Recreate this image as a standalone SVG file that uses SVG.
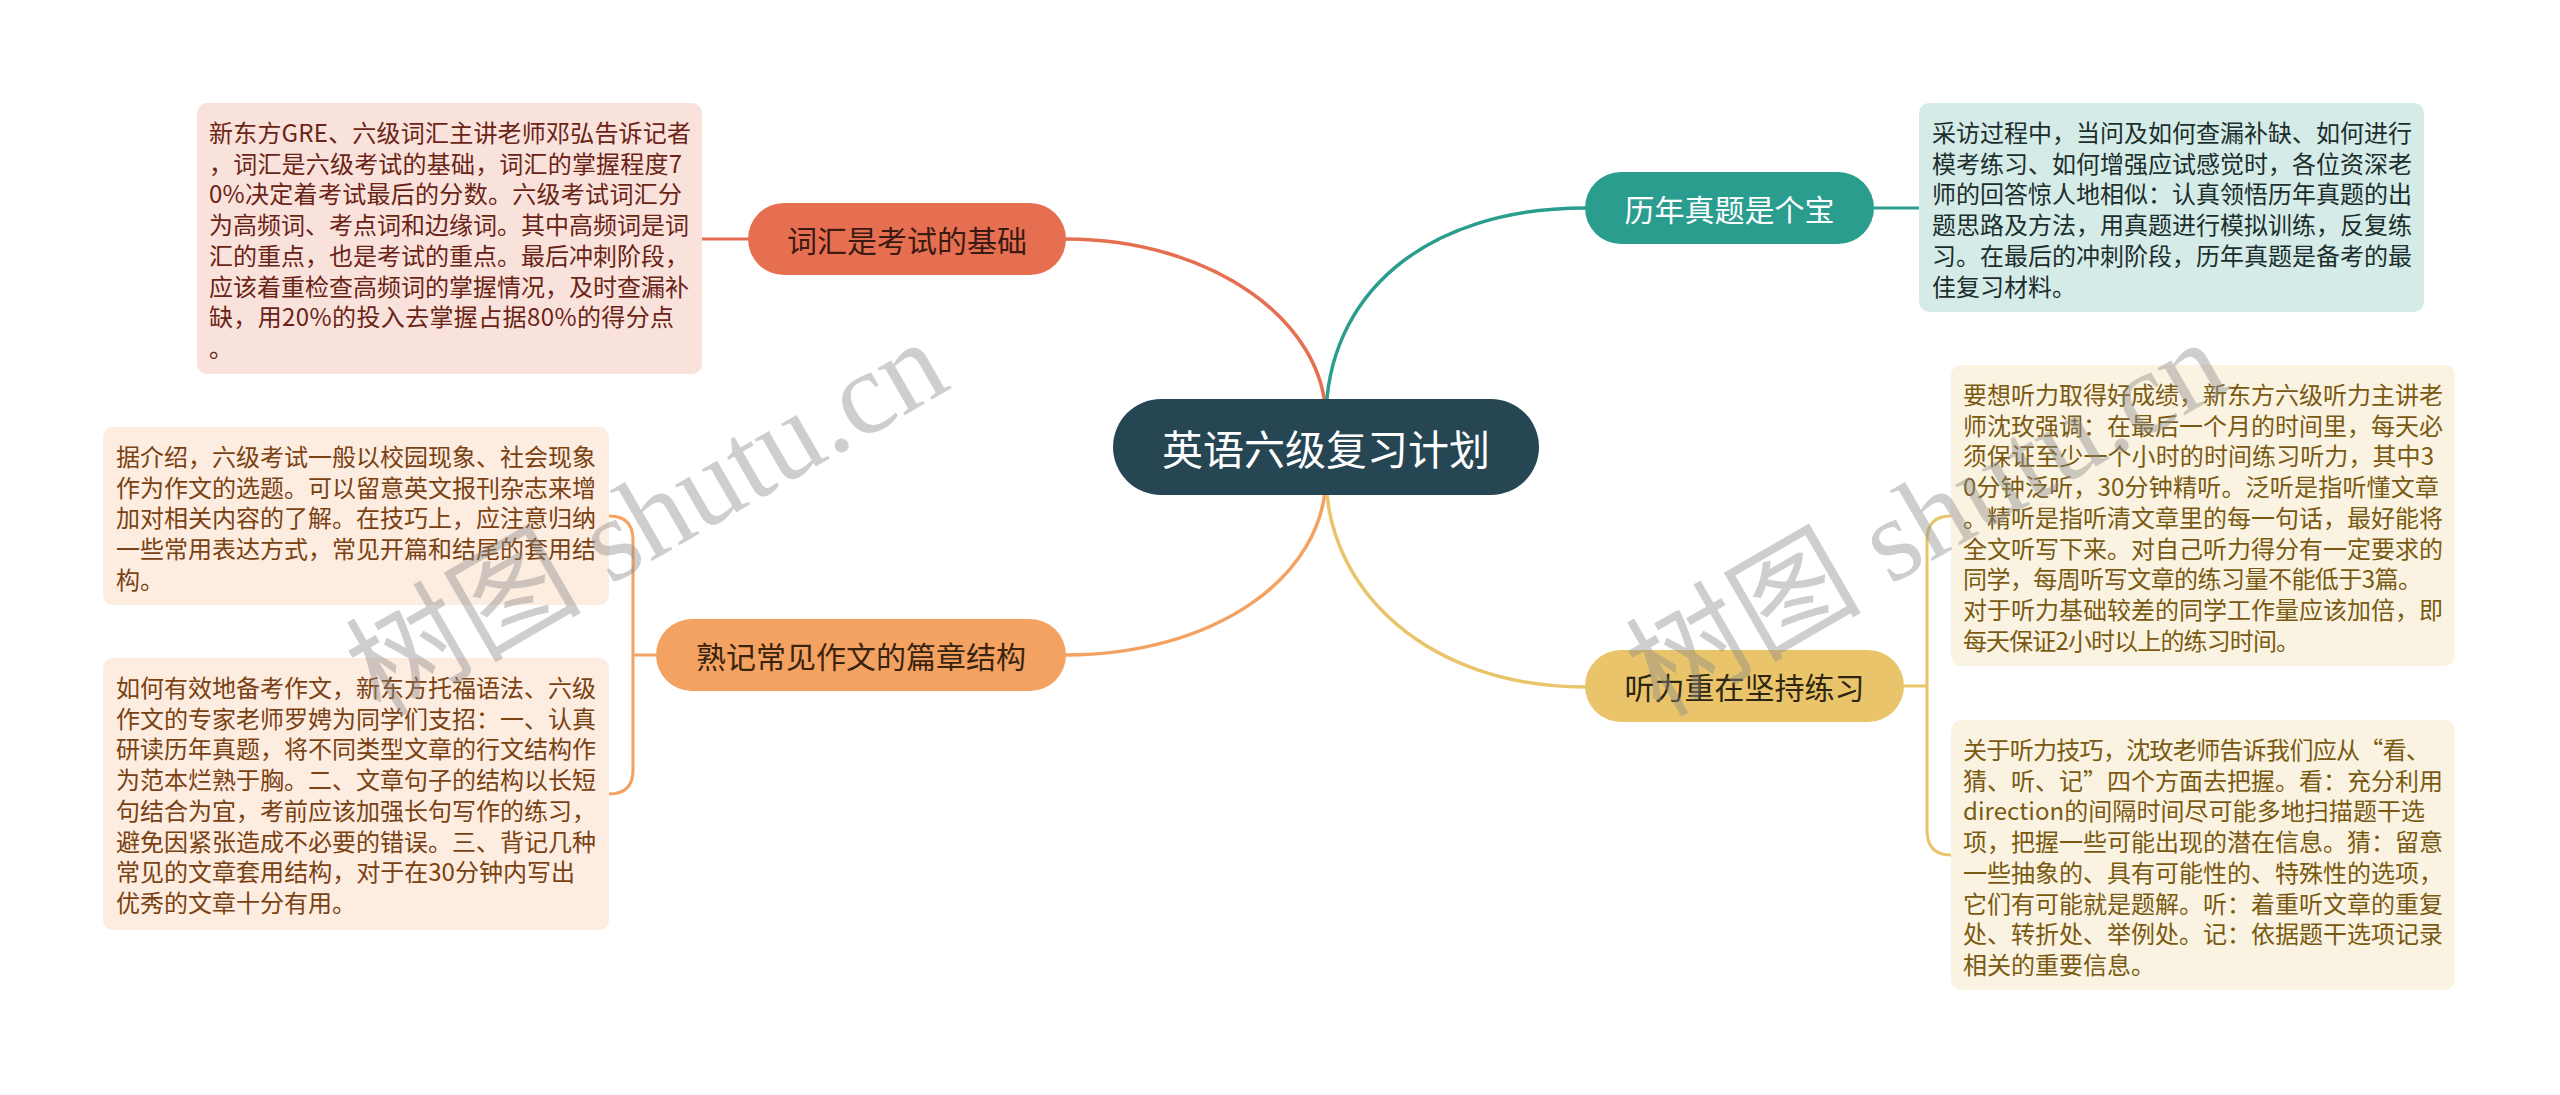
<svg xmlns="http://www.w3.org/2000/svg" width="2560" height="1095" viewBox="0 0 2560 1095">
<style>
text{font-family:"Noto Sans CJK SC","Noto Sans",sans-serif}
.box text{font-size:24px}
.node text{text-anchor:middle;dominant-baseline:central;font-size:30px}
.c{fill:none;stroke-width:3.5;stroke-linecap:round}
.s{fill:none;stroke-width:3}
.wm{font-family:"Liberation Serif","Noto Sans CJK SC",serif;font-size:118px;fill:#8c8c8c;opacity:0.42}
</style>
<rect width="2560" height="1095" fill="#ffffff"/>
<g id="connectors">
<path class="c" stroke="#e76f51" d="M1326,420 C1326,320 1210,239 1066,239"/>
<path class="c" stroke="#2a9d8f" d="M1326,420 C1326,295 1425,208 1585,208"/>
<path class="c" stroke="#f4a261" d="M1326,475 C1326,580 1210,655 1066,655"/>
<path class="c" stroke="#e9c46a" d="M1326,475 C1326,592 1430,687 1585,687"/>
<path class="s" stroke="#e76f51" d="M748,239 H702"/>
<path class="s" stroke="#2a9d8f" d="M1874,208 H1919"/>
<path class="s" stroke="#f4a261" d="M656,655 H633 M633,655 V540 Q633,516 609,516 M633,655 V770 Q633,794 609,794"/>
<path class="s" stroke="#e9c46a" d="M1904,686 H1927 M1927,686 V540 Q1927,516 1951,516 M1927,686 V830 Q1927,855 1951,855"/>
</g>
<g id="root" class="node">
<rect x="1113" y="399" width="426" height="96" rx="48" fill="#264653"/>
<text x="1326" y="447" fill="#ffffff" style="font-size:41px">英语六级复习计划</text>
</g>
<g id="n-vocab" class="node">
<rect x="748" y="203" width="318" height="72" rx="36" fill="#e76f51"/>
<text x="907" y="239" fill="#3a1a12">词汇是考试的基础</text>
</g>
<g id="n-writing" class="node">
<rect x="656" y="619" width="410" height="72" rx="36" fill="#f4a261"/>
<text x="861" y="655" fill="#3a2410">熟记常见作文的篇章结构</text>
</g>
<g id="n-papers" class="node">
<rect x="1585" y="172" width="289" height="72" rx="36" fill="#2a9d8f"/>
<text x="1729.5" y="208" fill="#ffffff">历年真题是个宝</text>
</g>
<g id="n-listening" class="node">
<rect x="1585" y="650" width="319" height="72" rx="36" fill="#e9c46a"/>
<text x="1744.5" y="686" fill="#2e2612">听力重在坚持练习</text>
</g>
<g id="b-vocab" class="box">
<rect x="197" y="103" width="505" height="271" rx="10" fill="#fae2dc"/>
<text fill="#6a2416">
<tspan x="209" y="142" textLength="482" lengthAdjust="spacing">新东方GRE、六级词汇主讲老师邓弘告诉记者</tspan>
<tspan x="209" y="172.7" textLength="473" lengthAdjust="spacing">，词汇是六级考试的基础，词汇的掌握程度7</tspan>
<tspan x="209" y="203.4" textLength="473" lengthAdjust="spacing">0%决定着考试最后的分数。六级考试词汇分</tspan>
<tspan x="209" y="234.1">为高频词、考点词和边缘词。其中高频词是词</tspan>
<tspan x="209" y="264.8">汇的重点，也是考试的重点。最后冲刺阶段，</tspan>
<tspan x="209" y="295.5">应该着重检查高频词的掌握情况，及时查漏补</tspan>
<tspan x="209" y="326.2" textLength="465" lengthAdjust="spacing">缺，用20%的投入去掌握占据80%的得分点</tspan>
<tspan x="209" y="356.9">。</tspan>
</text>
</g>
<g id="b-writing1" class="box">
<rect x="103" y="427" width="506" height="178" rx="10" fill="#fdece0"/>
<text fill="#7a4212">
<tspan x="116" y="466">据介绍，六级考试一般以校园现象、社会现象</tspan>
<tspan x="116" y="496.7">作为作文的选题。可以留意英文报刊杂志来增</tspan>
<tspan x="116" y="527.4">加对相关内容的了解。在技巧上，应注意归纳</tspan>
<tspan x="116" y="558.1">一些常用表达方式，常见开篇和结尾的套用结</tspan>
<tspan x="116" y="588.8">构。</tspan>
</text>
</g>
<g id="b-writing2" class="box">
<rect x="103" y="658" width="506" height="272" rx="10" fill="#fdece0"/>
<text fill="#7a4212">
<tspan x="116" y="697">如何有效地备考作文，新东方托福语法、六级</tspan>
<tspan x="116" y="727.7">作文的专家老师罗娉为同学们支招：一、认真</tspan>
<tspan x="116" y="758.4">研读历年真题，将不同类型文章的行文结构作</tspan>
<tspan x="116" y="789.1">为范本烂熟于胸。二、文章句子的结构以长短</tspan>
<tspan x="116" y="819.8">句结合为宜，考前应该加强长句写作的练习，</tspan>
<tspan x="116" y="850.5">避免因紧张造成不必要的错误。三、背记几种</tspan>
<tspan x="116" y="881.2" textLength="459" lengthAdjust="spacing">常见的文章套用结构，对于在30分钟内写出</tspan>
<tspan x="116" y="911.9">优秀的文章十分有用。</tspan>
</text>
</g>
<g id="b-papers" class="box">
<rect x="1919" y="103" width="505" height="209" rx="10" fill="#d4ebe8"/>
<text fill="#1c2e2c">
<tspan x="1932" y="142">采访过程中，当问及如何查漏补缺、如何进行</tspan>
<tspan x="1932" y="172.7">模考练习、如何增强应试感觉时，各位资深老</tspan>
<tspan x="1932" y="203.4">师的回答惊人地相似：认真领悟历年真题的出</tspan>
<tspan x="1932" y="234.1">题思路及方法，用真题进行模拟训练，反复练</tspan>
<tspan x="1932" y="264.8">习。在最后的冲刺阶段，历年真题是备考的最</tspan>
<tspan x="1932" y="295.5">佳复习材料。</tspan>
</text>
</g>
<g id="b-listening1" class="box">
<rect x="1951" y="365" width="504" height="301" rx="10" fill="#faf3e1"/>
<text fill="#7a5a12">
<tspan x="1963" y="404">要想听力取得好成绩，新东方六级听力主讲老</tspan>
<tspan x="1963" y="434.7">师沈玫强调：在最后一个月的时间里，每天必</tspan>
<tspan x="1963" y="465.4" textLength="471" lengthAdjust="spacing">须保证至少一个小时的时间练习听力，其中3</tspan>
<tspan x="1963" y="496.1" textLength="476" lengthAdjust="spacing">0分钟泛听，30分钟精听。泛听是指听懂文章</tspan>
<tspan x="1963" y="526.8">。精听是指听清文章里的每一句话，最好能将</tspan>
<tspan x="1963" y="557.5">全文听写下来。对自己听力得分有一定要求的</tspan>
<tspan x="1963" y="588.2" textLength="459" lengthAdjust="spacing">同学，每周听写文章的练习量不能低于3篇。</tspan>
<tspan x="1963" y="618.9">对于听力基础较差的同学工作量应该加倍，即</tspan>
<tspan x="1963" y="649.6" textLength="337" lengthAdjust="spacing">每天保证2小时以上的练习时间。</tspan>
</text>
</g>
<g id="b-listening2" class="box">
<rect x="1951" y="720" width="504" height="270" rx="10" fill="#faf3e1"/>
<text fill="#7a5a12">
<tspan x="1963" y="759" textLength="467" lengthAdjust="spacing">关于听力技巧，沈玫老师告诉我们应从“看、</tspan>
<tspan x="1963" y="789.7">猜、听、记”四个方面去把握。看：充分利用</tspan>
<tspan x="1963" y="820.4" textLength="462" lengthAdjust="spacing">direction的间隔时间尽可能多地扫描题干选</tspan>
<tspan x="1963" y="851.1">项，把握一些可能出现的潜在信息。猜：留意</tspan>
<tspan x="1963" y="881.8">一些抽象的、具有可能性的、特殊性的选项，</tspan>
<tspan x="1963" y="912.5">它们有可能就是题解。听：着重听文章的重复</tspan>
<tspan x="1963" y="943.2">处、转折处、举例处。记：依据题干选项记录</tspan>
<tspan x="1963" y="973.9">相关的重要信息。</tspan>
</text>
</g>
<g id="watermarks">
<text class="wm" transform="translate(380,718) rotate(-30)">树图 shutu.cn</text>
<text class="wm" transform="translate(1660,718) rotate(-30)">树图 shutu.cn</text>
</g>
</svg>
